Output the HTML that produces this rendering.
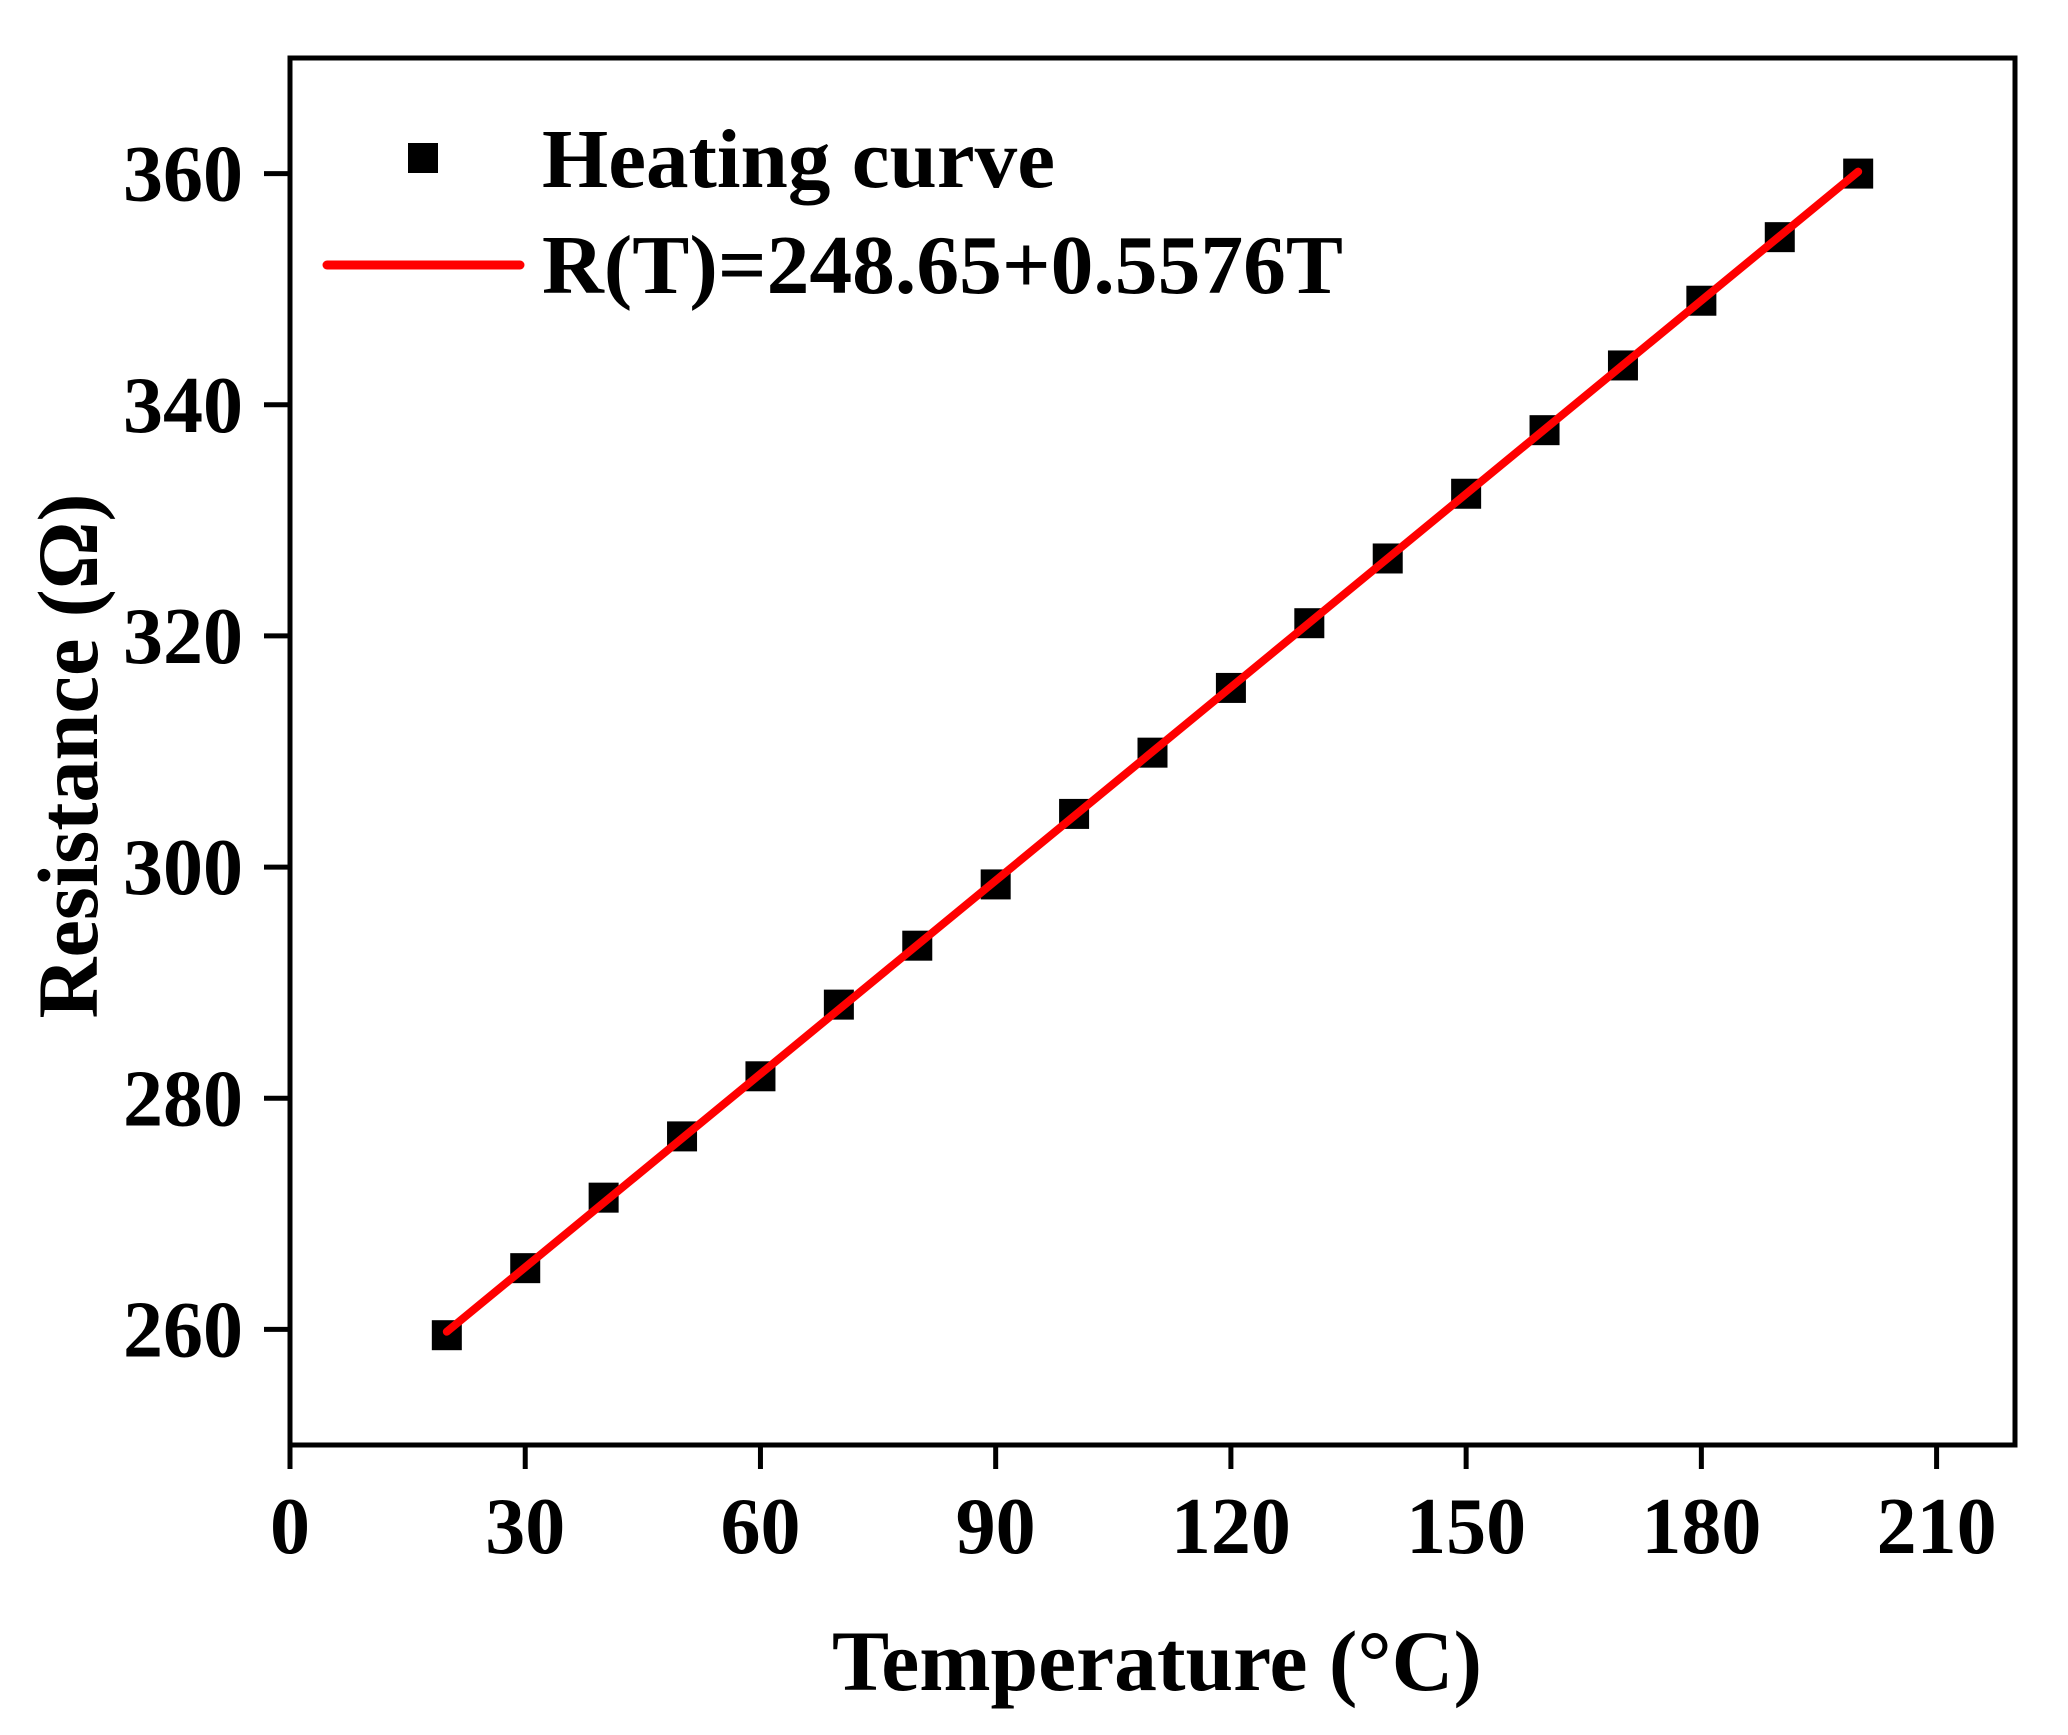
<!DOCTYPE html>
<html><head><meta charset="utf-8"><style>
html,body{margin:0;padding:0;background:#fff;}
svg{display:block;font-family:"Liberation Serif","Times New Roman",serif;font-weight:bold;}
</style></head><body>
<svg id="chart" width="2068" height="1735" viewBox="0 0 2068 1735" xmlns="http://www.w3.org/2000/svg">
<rect width="2068" height="1735" fill="#fff"/>
<g id="marks"></g>
<rect x="290" y="58" width="1725" height="1387" fill="none" stroke="#000" stroke-width="5"/>
<g id="axes"></g>
<text x="1157" y="1690" font-size="86" text-anchor="middle" textLength="650" lengthAdjust="spacingAndGlyphs">Temperature (°C)</text>
<text transform="translate(97,756) rotate(-90)" font-size="86" text-anchor="middle" textLength="525" lengthAdjust="spacingAndGlyphs">Resistance (Ω)</text>
<g>
<rect x="408" y="143" width="30" height="30" fill="#000"/>
<text x="542" y="187" font-size="84" textLength="513" lengthAdjust="spacingAndGlyphs">Heating curve</text>
<line x1="327" y1="265" x2="520" y2="265" stroke="#ff0000" stroke-width="9" stroke-linecap="round"/>
<text x="542" y="293" font-size="84" textLength="801" lengthAdjust="spacingAndGlyphs">R(T)=248.65+0.5576T</text>
</g>
</svg>
<script>
const temps=[20,30,40,50,60,70,80,90,100,110,120,130,140,150,160,170,180,190,200];
const resist=[259.5,265.3,271.4,276.7,281.9,288.1,293.2,298.5,304.6,309.9,315.5,321.1,326.7,332.3,337.8,343.4,349.0,354.5,360.0];
const fitIntercept=248.65;
const fitSlope=0.5576;
const xTicks=[0,30,60,90,120,150,180,210];
const yTicks=[260,280,300,320,340,360];
const NS="http://www.w3.org/2000/svg";
const X0=290,X1=2015,Y0=1445,Y1=58,xmin=0,xmax=220,ymin=250,ymax=370;
function xs(v){return X0+(v-xmin)/(xmax-xmin)*(X1-X0);}
function ys(v){return Y0-(v-ymin)/(ymax-ymin)*(Y0-Y1);}
function mk(tag,attrs,parent){const e=document.createElementNS(NS,tag);for(const k in attrs)e.setAttribute(k,attrs[k]);parent.appendChild(e);return e;}
const marks=document.getElementById('marks');
const axes=document.getElementById('axes');
temps.forEach((t,i)=>{
  const r=mk('rect',{x:xs(t)-15,y:ys(resist[i])-15,width:30,height:30,fill:'#000'},marks);
  
  
});
const tA=temps[0],tB=temps[temps.length-1];
const fl=mk('line',{x1:xs(tA),y1:ys(fitIntercept+fitSlope*tA),x2:xs(tB),y2:ys(fitIntercept+fitSlope*tB),stroke:'#ff0000','stroke-width':8,'stroke-linecap':'round'},marks);


xTicks.forEach(v=>{
  const l=mk('line',{x1:xs(v),y1:Y0,x2:xs(v),y2:Y0+24,stroke:'#000','stroke-width':5},axes);
  
  
  const t=mk('text',{x:xs(v),y:1553,'font-size':80,'text-anchor':'middle'},axes);
  t.textContent=v;
  
  
});
yTicks.forEach(v=>{
  const l=mk('line',{x1:X0-26,y1:ys(v),x2:X0,y2:ys(v),stroke:'#000','stroke-width':5},axes);
  
  
  const t=mk('text',{x:243,y:ys(v)+27,'font-size':80,'text-anchor':'end'},axes);
  t.textContent=v;
  
  
});
</script>
</body></html>
